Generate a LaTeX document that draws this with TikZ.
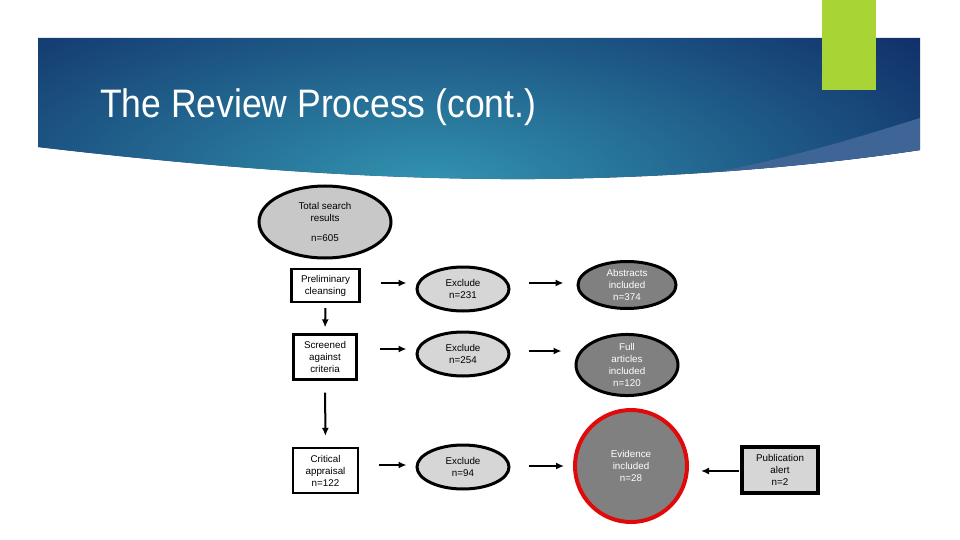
\documentclass[tikz,border=0pt]{standalone}
\usepackage{fontspec}
\setmainfont{Liberation Sans}
\usetikzlibrary{shapes.geometric,arrows.meta}
\definecolor{bannerdark}{HTML}{0F2C66}
\definecolor{bannermid}{HTML}{1D5A8C}
\definecolor{bannerlight}{HTML}{3294B0}
\definecolor{wedgecol}{HTML}{3F6496}
\definecolor{accentgreen}{HTML}{A8D435}
\definecolor{lightfill}{HTML}{D6D6D6}
\definecolor{totalfill}{HTML}{C8C8C8}
\definecolor{darkfill}{HTML}{808080}
\definecolor{evred}{HTML}{E00A0A}
\tikzset{
  txt/.style={font=\fontsize{9.8}{12}\selectfont, align=center},
  procbox/.style={txt, draw=black, line width=2.2pt, fill=white, inner sep=0pt},
  lightell/.style={txt, ellipse, draw=black, line width=3pt, fill=lightfill, inner sep=0pt},
  darkell/.style={txt, ellipse, draw=black, line width=3pt, fill=darkfill, text=white, inner sep=0pt},
  flowarrow/.style={line width=2pt, -{Latex[length=8pt,width=7pt]}},
}
\begin{document}
\begin{tikzpicture}[x=1pt,y=-1pt]
\useasboundingbox (0,0) rectangle (960,540);
\fill[white] (0,0) rectangle (960,540);
% banner
\begin{scope}
\clip (38,38) -- (920,38) -- (920,150) .. controls (800,168) and (650,180) .. (500,179) .. controls (350,178) and (200,166) .. (38,147) -- cycle;
\fill[bannerdark] (38,38) rectangle (920,185);
\shade[inner color=bannerlight, outer color=bannerdark] (430,185) ellipse (640 and 250);
\fill[wedgecol] (640,185) .. controls (760,168) and (850,140) .. (920,118) -- (920,185) -- cycle;
\end{scope}
\fill[accentgreen] (822,0) rectangle (876,90);
\node[anchor=base west, text=white, font=\fontsize{35.5}{40}\selectfont, inner sep=0pt] (title) at (100,118) {\scalebox{1}[1.12]{The Review Process (cont.)}};
% nodes
\node[txt, ellipse, draw=black, line width=3pt, fill=totalfill, minimum width=132pt, minimum height=72pt, inner sep=0pt] (total) at (325,222) {Total search\\results\\[8pt]n=605};
\node[procbox, minimum width=68pt, minimum height=33pt] (prel) at (325.5,285.5) {Preliminary\\cleansing};
\node[procbox, minimum width=63pt, minimum height=45pt] (scr) at (325,357) {Screened\\against\\criteria};
\node[procbox, minimum width=65pt, minimum height=45pt] (crit) at (325.5,470.5) {Critical\\appraisal\\n=122};
\node[lightell, minimum width=92pt, minimum height=44pt] (ex1) at (463,289) {Exclude\\n=231};
\node[lightell, minimum width=92pt, minimum height=44pt] (ex2) at (463,354) {Exclude\\n=254};
\node[lightell, minimum width=92pt, minimum height=44pt] (ex3) at (463,467) {Exclude\\n=94};
\node[darkell, minimum width=98pt, minimum height=47pt] (abs) at (627,285) {Abstracts\\included\\n=374};
\node[darkell, minimum width=102pt, minimum height=56pt] (full) at (627,365) {Full\\articles\\included\\n=120};
\node[txt, circle, draw=evred, line width=4pt, fill=darkfill, text=white, minimum size=112pt, inner sep=0pt] (evid) at (631,466) {Evidence\\included\\n=28};
\node[procbox, line width=3.2pt, fill=lightfill, minimum width=76pt, minimum height=46pt] (pub) at (780,470) {Publication\\alert\\n=2};
% connectors
\draw[flowarrow, shorten <=20pt, shorten >=9pt] ([yshift=2.5pt]prel.east) -- ([yshift=2.5pt]prel.east -| ex1.west);
\draw[flowarrow, shorten <=22pt, shorten >=9pt] ([yshift=8pt]scr.east) -- ([yshift=8pt]scr.east -| ex2.west);
\draw[flowarrow, shorten <=20pt, shorten >=9pt] ([yshift=5.5pt]crit.east) -- ([yshift=5.5pt]crit.east -| ex3.west);
\draw[flowarrow, shorten <=18pt, shorten >=13pt] ([yshift=6pt]ex1.east) -- ([yshift=6pt]ex1.east -| abs.west);
\draw[flowarrow, shorten <=18pt, shorten >=13pt] ([yshift=3pt]ex2.east) -- ([yshift=3pt]ex2.east -| full.west);
\draw[flowarrow, shorten <=18pt, shorten >=9pt] ([yshift=1pt]ex3.east) -- ([yshift=1pt]ex3.east -| evid.west);
\draw[flowarrow, shorten <=1pt, shorten >=12pt] ([yshift=-1pt]pub.west) -- ([yshift=-1pt]pub.west -| evid.east);
\draw[flowarrow, shorten <=5pt, shorten >=6pt] (prel.south) -- (scr.north);
\draw[flowarrow, shorten <=12pt, shorten >=11pt] (scr.south) -- (crit.north);
\end{tikzpicture}
\end{document}
